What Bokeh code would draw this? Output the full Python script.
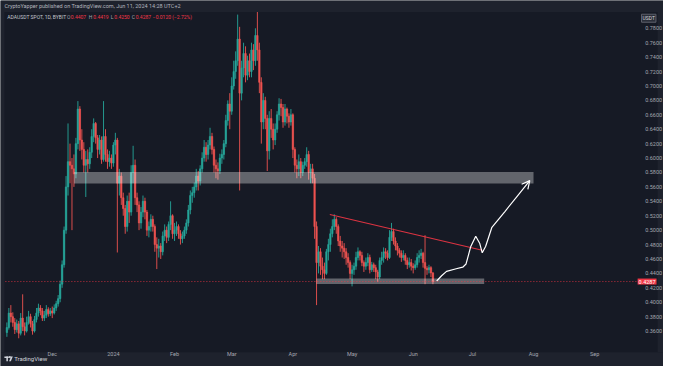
import numpy as np
import pandas as pd
from bokeh.plotting import figure
from bokeh.models import (Range1d, FixedTicker, NumeralTickFormatter, Label, Arrow, OpenHead)
from bokeh.embed import file_html
from bokeh.resources import INLINE

# ---------------- data (ADAUSDT daily) ----------------
first_date = "2023-11-08"
last_date = "2024-06-11"
first_open = 0.358

C_nov = [0.365, 0.385, 0.380, 0.372, 0.362, 0.370, 0.357, 0.378, 0.366, 0.360, 0.372, 0.380,
         0.370, 0.360, 0.376, 0.385, 0.392, 0.388, 0.378, 0.382, 0.390, 0.384, 0.388]
H_nov = [0.372, 0.392, 0.396, 0.386, 0.378, 0.376, 0.374, 0.385, 0.411, 0.372, 0.380, 0.388,
         0.384, 0.374, 0.381, 0.392, 0.398, 0.396, 0.392, 0.388, 0.396, 0.393, 0.392]
L_nov = [0.352, 0.362, 0.372, 0.366, 0.356, 0.358, 0.350, 0.354, 0.360, 0.354, 0.358, 0.369,
         0.365, 0.355, 0.358, 0.372, 0.380, 0.382, 0.374, 0.374, 0.378, 0.380, 0.381]

C_dec = [0.385, 0.392, 0.398, 0.405, 0.425, 0.452, 0.500, 0.560, 0.595, 0.590, 0.585, 0.578,
         0.620, 0.668, 0.625, 0.612, 0.590, 0.598, 0.592, 0.608, 0.630, 0.648, 0.628, 0.612,
         0.625, 0.598, 0.630, 0.605, 0.595, 0.600, 0.593]
H_dec = [0.394, 0.397, 0.402, 0.410, 0.430, 0.458, 0.505, 0.575, 0.648, 0.620, 0.600, 0.605,
         0.628, 0.679, 0.672, 0.640, 0.622, 0.610, 0.612, 0.615, 0.640, 0.655, 0.650, 0.632,
         0.632, 0.630, 0.679, 0.640, 0.612, 0.610, 0.605]
L_dec = [0.378, 0.383, 0.388, 0.394, 0.400, 0.420, 0.448, 0.495, 0.548, 0.565, 0.500, 0.560,
         0.572, 0.612, 0.610, 0.598, 0.580, 0.546, 0.580, 0.585, 0.600, 0.622, 0.620, 0.600,
         0.605, 0.592, 0.595, 0.595, 0.585, 0.588, 0.585]

C_jan = [0.618, 0.625, 0.565, 0.575, 0.545, 0.530, 0.505, 0.540, 0.525, 0.580, 0.590, 0.545,
         0.535, 0.510, 0.525, 0.540, 0.525, 0.500, 0.505, 0.515, 0.505, 0.480, 0.475, 0.478,
         0.470, 0.492, 0.500, 0.490, 0.508, 0.520, 0.495]
H_jan = [0.622, 0.635, 0.628, 0.585, 0.580, 0.552, 0.535, 0.548, 0.552, 0.590, 0.617, 0.598,
         0.552, 0.540, 0.532, 0.548, 0.545, 0.528, 0.512, 0.522, 0.520, 0.508, 0.490, 0.488,
         0.482, 0.498, 0.508, 0.505, 0.512, 0.540, 0.522]
L_jan = [0.588, 0.605, 0.469, 0.548, 0.535, 0.520, 0.495, 0.498, 0.510, 0.520, 0.565, 0.535,
         0.525, 0.500, 0.502, 0.518, 0.515, 0.492, 0.490, 0.498, 0.498, 0.470, 0.446, 0.462,
         0.460, 0.465, 0.485, 0.482, 0.485, 0.500, 0.488]

C_feb = [0.500, 0.505, 0.495, 0.488, 0.492, 0.500, 0.510, 0.528, 0.548, 0.552, 0.560, 0.575,
         0.568, 0.585, 0.600, 0.615, 0.605, 0.618, 0.630, 0.612, 0.590, 0.585, 0.582, 0.600,
         0.605, 0.620, 0.652, 0.675, 0.665]
H_feb = [0.510, 0.512, 0.508, 0.500, 0.498, 0.505, 0.515, 0.535, 0.555, 0.560, 0.566, 0.585,
         0.582, 0.590, 0.608, 0.625, 0.622, 0.625, 0.642, 0.635, 0.616, 0.598, 0.594, 0.606,
         0.612, 0.625, 0.660, 0.680, 0.690]
L_feb = [0.485, 0.492, 0.488, 0.480, 0.482, 0.488, 0.495, 0.505, 0.522, 0.538, 0.545, 0.555,
         0.555, 0.562, 0.580, 0.595, 0.595, 0.598, 0.612, 0.605, 0.580, 0.572, 0.570, 0.578,
         0.592, 0.598, 0.615, 0.645, 0.640]

C_mar = [0.700, 0.720, 0.735, 0.765, 0.690, 0.725, 0.745, 0.715, 0.735, 0.720, 0.750, 0.735,
         0.770, 0.750, 0.705, 0.650, 0.680, 0.655, 0.610, 0.655, 0.640, 0.625, 0.640, 0.660,
         0.675, 0.670, 0.650, 0.668, 0.658, 0.650, 0.660]
H_mar = [0.712, 0.735, 0.748, 0.799, 0.782, 0.735, 0.760, 0.755, 0.742, 0.745, 0.760, 0.758,
         0.780, 0.803, 0.760, 0.712, 0.690, 0.685, 0.660, 0.665, 0.668, 0.648, 0.648, 0.665,
         0.683, 0.682, 0.675, 0.675, 0.670, 0.662, 0.668]
L_mar = [0.660, 0.695, 0.710, 0.728, 0.555, 0.680, 0.712, 0.705, 0.708, 0.712, 0.712, 0.722,
         0.728, 0.735, 0.690, 0.620, 0.640, 0.640, 0.582, 0.598, 0.628, 0.612, 0.618, 0.635,
         0.652, 0.658, 0.642, 0.645, 0.648, 0.642, 0.645]

C_apr = [0.612, 0.590, 0.585, 0.595, 0.580, 0.590, 0.595, 0.605, 0.580, 0.585, 0.572, 0.505,
         0.455, 0.470, 0.450, 0.445, 0.440, 0.470, 0.480, 0.495, 0.505, 0.515, 0.505, 0.485,
         0.478, 0.475, 0.470, 0.462, 0.455, 0.440]
H_apr = [0.662, 0.615, 0.598, 0.605, 0.600, 0.595, 0.600, 0.615, 0.610, 0.592, 0.592, 0.578,
         0.512, 0.478, 0.475, 0.462, 0.455, 0.474, 0.488, 0.502, 0.515, 0.522, 0.518, 0.508,
         0.492, 0.485, 0.482, 0.475, 0.468, 0.458]
L_apr = [0.600, 0.580, 0.572, 0.575, 0.572, 0.575, 0.585, 0.588, 0.570, 0.565, 0.565, 0.488,
         0.396, 0.440, 0.438, 0.432, 0.432, 0.438, 0.458, 0.470, 0.490, 0.500, 0.495, 0.478,
         0.470, 0.462, 0.460, 0.452, 0.448, 0.432]

C_may = [0.445, 0.450, 0.462, 0.470, 0.465, 0.455, 0.450, 0.455, 0.462, 0.445, 0.452, 0.448,
         0.442, 0.435, 0.458, 0.462, 0.470, 0.468, 0.462, 0.490, 0.498, 0.485, 0.478, 0.472,
         0.468, 0.462, 0.465, 0.458, 0.452, 0.455, 0.450]
H_may = [0.452, 0.455, 0.470, 0.476, 0.472, 0.470, 0.458, 0.462, 0.468, 0.466, 0.456, 0.455,
         0.452, 0.445, 0.462, 0.470, 0.476, 0.475, 0.472, 0.500, 0.510, 0.502, 0.490, 0.482,
         0.475, 0.472, 0.472, 0.468, 0.462, 0.462, 0.460]
L_may = [0.422, 0.438, 0.445, 0.458, 0.458, 0.450, 0.442, 0.445, 0.450, 0.440, 0.442, 0.442,
         0.432, 0.428, 0.432, 0.452, 0.455, 0.460, 0.458, 0.460, 0.485, 0.480, 0.472, 0.465,
         0.462, 0.456, 0.458, 0.452, 0.446, 0.448, 0.444]

C_jun = [0.448, 0.452, 0.462, 0.465, 0.468, 0.455, 0.447, 0.445, 0.448, 0.4407, 0.4287]
H_jun = [0.454, 0.458, 0.468, 0.472, 0.474, 0.470, 0.493, 0.450, 0.452, 0.450, 0.4419]
L_jun = [0.440, 0.445, 0.448, 0.455, 0.460, 0.448, 0.425, 0.438, 0.440, 0.435, 0.4250]

# axis ticks
month_starts = ["2023-12-01", "2024-01-01", "2024-02-01", "2024-03-01", "2024-04-01",
                "2024-05-01", "2024-06-01", "2024-07-01", "2024-08-01", "2024-09-01"]
month_labels = ["Dec", "2024", "Feb", "Mar", "Apr", "May", "Jun", "Jul", "Aug", "Sep"]
price_ticks = [0.36, 0.38, 0.40, 0.42, 0.44, 0.46, 0.48, 0.50, 0.52, 0.54, 0.56, 0.58,
               0.60, 0.62, 0.64, 0.66, 0.68, 0.70, 0.72, 0.74, 0.76, 0.78]

# drawings made on the chart (zones, trend line, projected path)
upper_zone = dict(start="2023-12-12", end="2024-08-01", bottom=0.5647, top=0.5807)
lower_zone = dict(start="2024-04-13", end="2024-07-07", bottom=0.4252, top=0.4331)
trend_dates = ["2024-04-19 17:00", "2024-07-06"]
trend_prices = [0.5218, 0.4721]
path_days = [194.9, 197.4, 199.9, 204.8, 208.1, 209.8, 212.2, 214.7, 216.7, 218.0, 219.7,
             222.9, 229.6, 236.1, 242.1]
path_prices = [0.4295, 0.4367, 0.4428, 0.4464, 0.4486, 0.4531, 0.4774, 0.4916, 0.4819,
               0.4686, 0.4774, 0.5040, 0.5262, 0.5484, 0.5687]

# ---------------- build ----------------
REF = pd.Timestamp("2023-12-01")
dates = pd.date_range(first_date, last_date, freq="D")
C = np.array(C_nov + C_dec + C_jan + C_feb + C_mar + C_apr + C_may + C_jun)
H = np.array(H_nov + H_dec + H_jan + H_feb + H_mar + H_apr + H_may + H_jun)
L = np.array(L_nov + L_dec + L_jan + L_feb + L_mar + L_apr + L_may + L_jun)
O = np.concatenate([[first_open], C[:-1]])
H = np.maximum(H, np.maximum(O, C))
L = np.minimum(L, np.minimum(O, C))
X = np.asarray((dates - REF).days, dtype=float)


def day(s):
    return (pd.Timestamp(s) - REF) / pd.Timedelta(days=1)


# layout helpers: positions of the TradingView page parts (reference pixel grid)
def rx(px):
    return (px - 53) / 2.02


def ry(py):
    return 0.78 - (py - 29) * 0.001329


BG = "#161a25"
BAND = "#1e222d"
UP = "#26a69a"
DOWN = "#ef5350"
RED = "#f23645"
TXT = "#a3a6af"
FONT = "Roboto"
FS = "5.5px"

p = figure(width=663, height=366, output_backend="svg", toolbar_location=None,
           x_range=Range1d(rx(0), rx(679)), y_range=Range1d(ry(382), ry(0)),
           y_axis_location="right", min_border=0,
           background_fill_color=BG, border_fill_color=BG, outline_line_color=None)
p.grid.visible = False

up = C >= O
colors = np.where(up, UP, DOWN)
src = dict(x=X, o=O, h=H, l=L, c=C, top=np.maximum(O, C), bottom=np.minimum(O, C),
           color=colors)
p.segment(x0="x", y0="h", x1="x", y1="l", color="color", line_width=0.9, source=src)
p.vbar(x="x", width=0.72, top="top", bottom="bottom", fill_color="color",
       line_color="color", line_width=0.6, source=src)

# zones
for z in (upper_zone, lower_zone):
    p.quad(left=[day(z["start"])], right=[day(z["end"])], bottom=[z["bottom"]],
           top=[z["top"]], fill_color="#ffffff", fill_alpha=0.33, line_color=None)

# trend line
p.line([day(d) for d in trend_dates], trend_prices, line_color=RED, line_width=1.1,
       line_alpha=0.9)

# projected path
p.line(path_days, path_prices, line_color="#ffffff", line_width=1.2)
p.add_layout(Arrow(end=OpenHead(size=8, line_color="#ffffff", line_width=1.2),
                   x_start=path_days[-2], y_start=path_prices[-2],
                   x_end=path_days[-1], y_end=path_prices[-1],
                   line_color="#ffffff", line_width=1.2, line_alpha=0))

# last price line
last = C[-1]
p.line([rx(5), rx(652)], [last, last], line_color=RED, line_dash="1 2", line_width=0.8)

# page bands: header, footer, side strips
p.quad(left=[rx(0)], right=[rx(679)], bottom=[ry(12)], top=[ry(0)], fill_color=BAND,
       line_color=None)
p.quad(left=[rx(0)], right=[rx(679)], bottom=[ry(382)], top=[ry(367)], fill_color=BAND,
       line_color=None)
p.quad(left=[rx(673)], right=[rx(679)], bottom=[ry(367)], top=[ry(12)], fill_color=BAND,
       line_color=None)
p.quad(left=[rx(0)], right=[rx(4)], bottom=[ry(367)], top=[ry(12)], fill_color=BAND,
       line_color=None)

# axes, drawn at the chart's edges
ax = p.yaxis[0]
ax.fixed_location = rx(650)
ax.ticker = FixedTicker(ticks=price_ticks)
ax.formatter = NumeralTickFormatter(format="0.0000")
ax.major_label_text_font = FONT
ax.major_label_text_font_size = FS
ax.major_label_text_color = TXT
ax.major_label_standoff = 4
ax.axis_line_color = None
ax.major_tick_line_color = None
ax.minor_tick_line_color = None

bx = p.xaxis[0]
bx.fixed_location = ry(357)
tick_pos = [int(day(m)) for m in month_starts]
bx.ticker = FixedTicker(ticks=tick_pos)
bx.major_label_overrides = {t: lab for t, lab in zip(tick_pos, month_labels)}
bx.major_label_text_font = FONT
bx.major_label_text_font_size = FS
bx.major_label_text_color = TXT
bx.major_label_standoff = 2
bx.axis_line_color = None
bx.major_tick_line_color = None
bx.minor_tick_line_color = None

# last price tag and currency box on the price scale
p.add_layout(Label(x=rx(652.5), y=last, text=f"{last:.4f}", text_font=FONT,
                   text_font_size=FS, text_color="#ffffff", text_baseline="middle",
                   background_fill_color=RED, padding=1))
p.add_layout(Label(x=rx(656.5), y=ry(18.5), text="USDT", text_font=FONT, text_font_size="5px",
                   text_color="#d1d4dc", text_baseline="middle",
                   background_fill_color="#2a2e39", border_line_color="#5d606b",
                   padding=1))

# symbol line
sym_y = ry(17)
segments = [(7, "ADAUSDT SPOT, 1D, BYBIT", "#c3c6ce"), (68, "O", TXT), (72, "0.4407", RED),
            (90.5, "H", TXT), (95, "0.4419", RED), (113, "L", TXT), (116.5, "0.4250", RED),
            (134.5, "C", TXT), (138.5, "0.4287", RED), (156, "\u22120.0120 (\u22122.72%)", RED)]
for px, t, col in segments:
    p.add_layout(Label(x=rx(px), y=sym_y, text=t, text_font=FONT, text_font_size="5px",
                       text_color=col, text_baseline="middle"))

# header text
p.add_layout(Label(x=rx(4), y=ry(6), text="CryptoYapper published on TradingView.com, Jun 11, 2024 14:28 UTC+2",
                   text_font=FONT, text_font_size="5.5px", text_color="#b2b5be",
                   text_baseline="middle"))

# footer: TradingView logo mark + name
LOGO = "#d1d4dc"
p.quad(left=[rx(4)], right=[rx(8.5)], top=[ry(371.5)], bottom=[ry(373)], fill_color=LOGO,
       line_color=None)
p.quad(left=[rx(6)], right=[rx(7.6)], top=[ry(371.5)], bottom=[ry(376.5)], fill_color=LOGO,
       line_color=None)
p.scatter([rx(9.6)], [ry(372.2)], size=2.2, fill_color=LOGO, line_color=None)
p.patch([rx(10.8), rx(12.6), rx(10.6), rx(8.8)], [ry(371.5), ry(371.5), ry(376.5), ry(376.5)],
        fill_color=LOGO, line_color=None)
p.add_layout(Label(x=rx(14), y=ry(374), text="TradingView", text_font=FONT,
                   text_font_size="6px", text_color=LOGO, text_baseline="middle"))

open("out.html", "w").write(file_html(p, INLINE))
